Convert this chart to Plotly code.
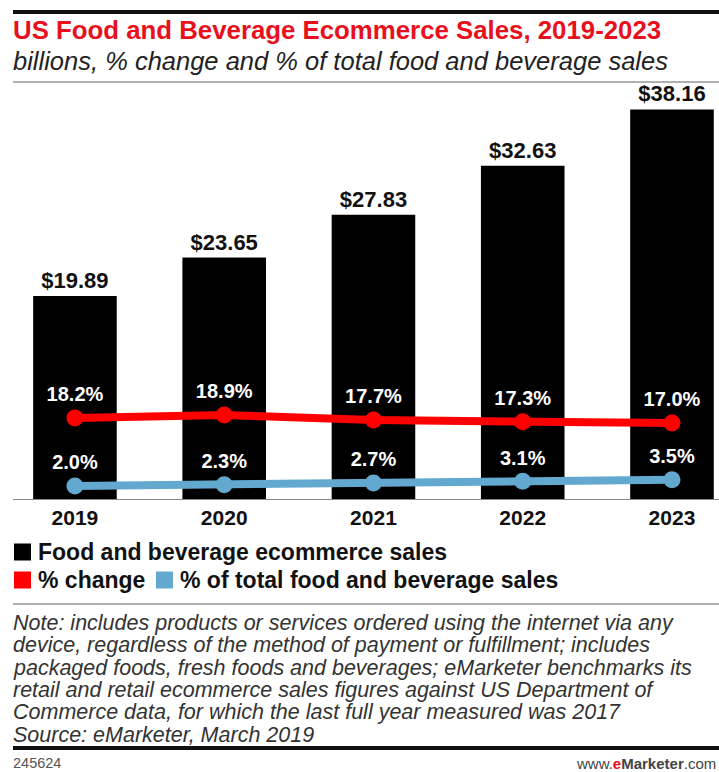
import plotly.graph_objects as go

# Chart data
years = ["2019", "2020", "2021", "2022", "2023"]
sales_billions = [19.89, 23.65, 27.83, 32.63, 38.16]
pct_change = [18.2, 18.9, 17.7, 17.3, 17.0]
pct_of_total = [2.0, 2.3, 2.7, 3.1, 3.5]

W, H = 719, 772
RED = "#ff0000"
BLUE = "#63a8cf"
TITLE_RED = "#e8101c"
FONT = "Liberation Sans, Arial, sans-serif"


def py(pixel_y):
    """Convert a pixel row (from top) to paper y coordinate."""
    return 1 - pixel_y / H


def px(pixel_x):
    return pixel_x / W


fig = go.Figure()

fig.add_trace(go.Bar(
    x=years, y=sales_billions,
    marker=dict(color="#000000", line=dict(width=0)),
    text=[f"<b>${v:.2f}</b>" for v in sales_billions],
    textposition="outside",
    textfont=dict(family=FONT, size=22, color="#111111"),
    cliponaxis=False,
    name="Food and beverage ecommerce sales",
    showlegend=False,
))

for series, color, name in (
    (pct_change, RED, "% change"),
    (pct_of_total, BLUE, "% of total food and beverage sales"),
):
    fig.add_trace(go.Scatter(
        x=years, y=series, yaxis="y2", mode="lines+markers+text",
        line=dict(color=color, width=8),
        marker=dict(color=color, size=17),
        text=[f"<b>{v:.1f}%</b>" for v in series],
        textposition="top center",
        textfont=dict(family=FONT, size=20, color="#ffffff"),
        cliponaxis=False,
        name=name, showlegend=False,
    ))

annotations = []

# title and subtitle
annotations.append(dict(
    x=px(11), y=py(30), xref="paper", yref="paper", xanchor="left", yanchor="middle",
    text="<b>US Food and Beverage Ecommerce Sales, 2019-2023</b>", showarrow=False,
    font=dict(family=FONT, size=25.8, color=TITLE_RED),
))
annotations.append(dict(
    x=px(11), y=py(61), xref="paper", yref="paper", xanchor="left", yanchor="middle",
    text="<i>billions, % change and % of total food and beverage sales</i>", showarrow=False,
    font=dict(family=FONT, size=25.5, color="#222222"),
))

# legend entries
legend_items = [
    ("Food and beverage ecommerce sales", "#000000", 14, 552),
    ("% change", RED, 14, 580),
    ("% of total food and beverage sales", BLUE, 156, 580),
]
shapes = []
for label, color, x0, yc in legend_items:
    shapes.append(dict(type="rect", xref="paper", yref="paper",
                       x0=px(x0), x1=px(x0 + 17), y0=py(yc + 8.5), y1=py(yc - 8.5),
                       fillcolor=color, line=dict(width=0)))
    annotations.append(dict(
        x=px(x0 + 22), y=py(yc), xref="paper", yref="paper", xanchor="left", yanchor="middle",
        text=f"<b>{label}</b>", showarrow=False,
        font=dict(family=FONT, size=23, color="#111111"),
    ))

# note and source
note_lines = [
    "Note: includes products or services ordered using the internet via any",
    "device, regardless of the method of payment or fulfillment; includes",
    "packaged foods, fresh foods and beverages; eMarketer benchmarks its",
    "retail and retail ecommerce sales figures against US Department of",
    "Commerce data, for which the last full year measured was 2017",
    "Source: eMarketer, March 2019",
]
for i, line in enumerate(note_lines):
    annotations.append(dict(
        x=px(11), y=py(623 + i * 22.3), xref="paper", yref="paper",
        xanchor="left", yanchor="middle",
        text=f"<i>{line}</i>", showarrow=False,
        font=dict(family=FONT, size=21.5, color="#333333"),
    ))

annotations.append(dict(
    x=px(11), y=py(763), xref="paper", yref="paper", xanchor="left", yanchor="middle",
    text="245624", showarrow=False, font=dict(family=FONT, size=14.5, color="#555555"),
))
annotations.append(dict(
    x=px(718), y=py(763), xref="paper", yref="paper", xanchor="right", yanchor="middle",
    text="www.<b><span style='color:#e8101c'>e</span>Marketer</b>.com", showarrow=False,
    font=dict(family=FONT, size=15, color="#444444"),
))

# horizontal rules
shapes += [
    dict(type="line", xref="paper", yref="paper", x0=px(13), x1=1, y0=py(12), y1=py(12),
         line=dict(color="#111111", width=4)),
    dict(type="line", xref="paper", yref="paper", x0=px(13), x1=1, y0=py(82), y1=py(82),
         line=dict(color="#b0b0b0", width=2)),
    dict(type="line", xref="paper", yref="paper", x0=px(13), x1=1, y0=py(604), y1=py(604),
         line=dict(color="#b0b0b0", width=2)),
    dict(type="line", xref="paper", yref="paper", x0=px(13), x1=1, y0=py(748), y1=py(748),
         line=dict(color="#111111", width=4)),
]

fig.update_layout(
    width=W, height=H,
    margin=dict(l=0, r=0, t=0, b=0),
    paper_bgcolor="#ffffff", plot_bgcolor="#ffffff",
    bargap=0.44,
    showlegend=False,
    xaxis=dict(
        domain=[px(13), 1], range=[-0.415, 4.315], type="category",
        showgrid=False, zeroline=False, showline=True, linecolor="#888888", linewidth=1,
        ticks="", tickfont=dict(family=FONT, size=21, color="#111111"),
        tickprefix="<b>", ticksuffix="</b>",
    ),
    yaxis=dict(
        domain=[py(499), py(90)], range=[0, 40.06],
        visible=False, showgrid=False, zeroline=False,
    ),
    yaxis2=dict(
        overlaying="y", range=[-1.1, 96.3], visible=False,
        showgrid=False, zeroline=False,
    ),
    annotations=annotations,
    shapes=shapes,
)

fig.write_html("out.html")
